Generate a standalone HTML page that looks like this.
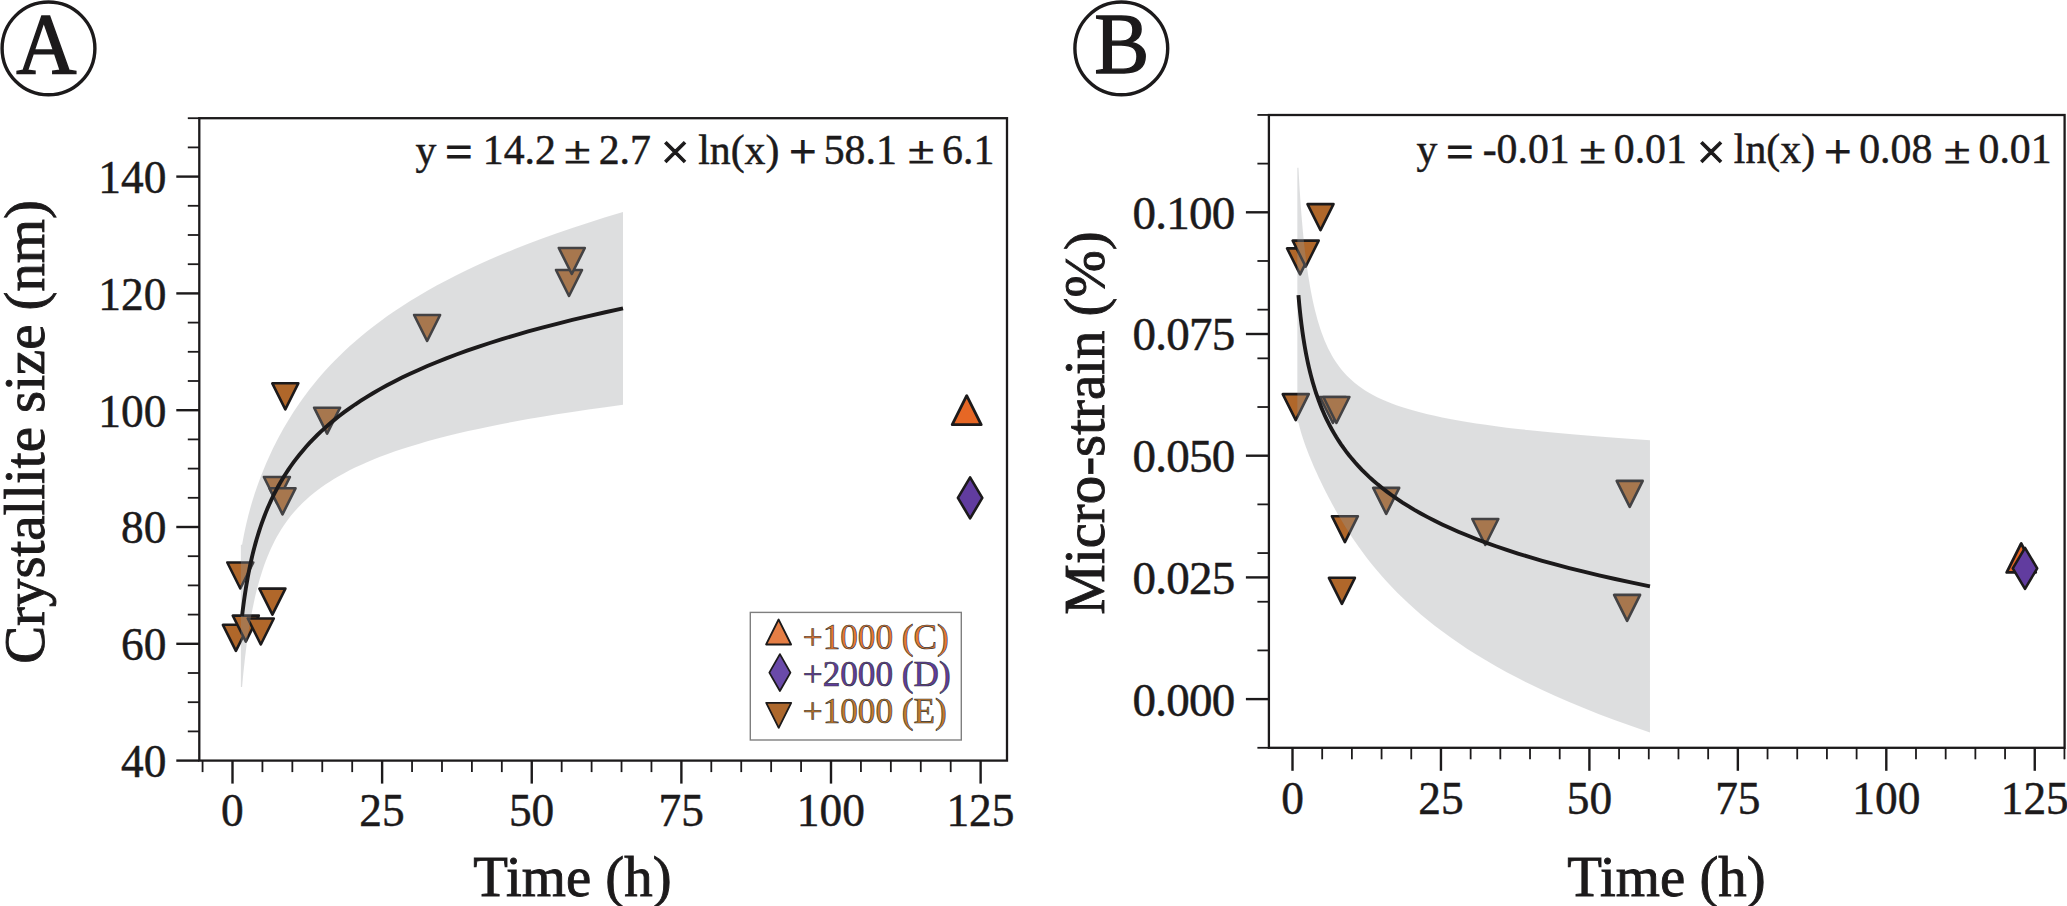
<!DOCTYPE html>
<html lang="en"><head><meta charset="utf-8"><title>Crystallite size and micro-strain vs time</title>
<style>html,body{margin:0;padding:0;background:#fff;}body{width:2067px;height:906px;overflow:hidden;}svg{display:block;}text{font-family:'Liberation Serif', 'DejaVu Serif', serif;fill:#1c1a1b;}.tk text,.eq text{stroke:#1c1a1b;stroke-width:0.5px;}.lb text{stroke:#1c1a1b;stroke-width:0.9px;}.eq text.op{stroke-width:1.1px;}</style></head><body>
<svg width="2067" height="906" viewBox="0 0 2067 906" role="img" aria-label="Crystallite size and micro-strain versus time">
<rect width="2067" height="906" fill="#fff"/>
<g id="markersA">
<path d="M222.9 624.8L248.9 624.8L235.9 650.8Z" fill="#b0672a" stroke="#1c1a1b" stroke-width="2.6" stroke-linejoin="round"/>
<path d="M232.8 615.6L258.8 615.6L245.8 641.6Z" fill="#b0672a" stroke="#1c1a1b" stroke-width="2.6" stroke-linejoin="round"/>
<path d="M247.8 618.5L273.8 618.5L260.8 644.5Z" fill="#b0672a" stroke="#1c1a1b" stroke-width="2.6" stroke-linejoin="round"/>
<path d="M259.4 588.6L285.4 588.6L272.4 614.6Z" fill="#b0672a" stroke="#1c1a1b" stroke-width="2.6" stroke-linejoin="round"/>
<path d="M227.3 562.5L253.3 562.5L240.3 588.5Z" fill="#b0672a" stroke="#1c1a1b" stroke-width="2.6" stroke-linejoin="round"/>
<path d="M263.9 477L289.9 477L276.9 503Z" fill="#b0672a" stroke="#1c1a1b" stroke-width="2.6" stroke-linejoin="round"/>
<path d="M269.5 488.3L295.5 488.3L282.5 514.3Z" fill="#b0672a" stroke="#1c1a1b" stroke-width="2.6" stroke-linejoin="round"/>
<path d="M272.3 383.3L298.3 383.3L285.3 409.3Z" fill="#b0672a" stroke="#1c1a1b" stroke-width="2.6" stroke-linejoin="round"/>
<path d="M314.1 407.7L340.1 407.7L327.1 433.7Z" fill="#b0672a" stroke="#1c1a1b" stroke-width="2.6" stroke-linejoin="round"/>
<path d="M414.1 315L440.1 315L427.1 341Z" fill="#b0672a" stroke="#1c1a1b" stroke-width="2.6" stroke-linejoin="round"/>
<path d="M556 270L582 270L569 296Z" fill="#b0672a" stroke="#1c1a1b" stroke-width="2.6" stroke-linejoin="round"/>
<path d="M558.8 248L584.8 248L571.8 274Z" fill="#b0672a" stroke="#1c1a1b" stroke-width="2.6" stroke-linejoin="round"/>
<path d="M952.2 424.7L981.2 424.7L966.7 395.7Z" fill="#e66725" stroke="#1c1a1b" stroke-width="2.8" stroke-linejoin="round"/>
<path d="M970.1 477.4L982.3 497.9L970.1 518.4L957.9 497.9Z" fill="#613c9f" stroke="#1c1a1b" stroke-width="2.6" stroke-linejoin="round"/>
</g>
<path d="M240.88 544.87L242.08 544.87L242.53 542.27L243.01 539.66L243.5 537.02L244.03 534.36L244.57 531.68L245.15 528.97L245.75 526.24L246.37 523.49L247.03 520.7L247.72 517.88L248.44 515.04L249.2 512.16L249.99 509.24L250.82 506.29L251.69 503.3L252.6 500.27L253.56 497.2L254.56 494.09L255.6 490.93L256.7 487.72L257.85 484.46L259.05 481.15L260.31 477.79L261.63 474.38L263.01 470.91L264.46 467.38L265.97 463.8L267.56 460.16L269.23 456.45L270.97 452.69L272.79 448.87L274.71 444.99L276.71 441.04L278.81 437.04L281 432.98L283.3 428.85L285.71 424.68L288.24 420.44L290.88 416.15L293.65 411.81L296.55 407.41L299.59 402.97L302.78 398.47L306.11 393.93L309.6 389.34L313.26 384.71L317.09 380.04L321.11 375.33L325.31 370.59L329.71 365.8L334.32 360.98L339.16 356.13L344.22 351.25L349.52 346.34L355.07 341.4L360.88 336.44L366.97 331.45L373.35 326.44L380.04 321.4L387.04 316.34L394.37 311.26L402.05 306.17L410.09 301.05L418.52 295.92L427.34 290.77L436.59 285.61L446.27 280.43L456.41 275.23L467.03 270.03L478.16 264.81L489.82 259.58L502.02 254.33L514.81 249.08L528.21 243.82L542.24 238.54L556.93 233.26L572.32 227.97L588.45 222.67L605.33 217.36L623.02 212.04L623.02 404.77L605.33 407.14L588.45 409.52L572.32 411.9L556.93 414.3L542.24 416.7L528.21 419.12L514.81 421.54L502.02 423.98L489.82 426.42L478.16 428.88L467.03 431.35L456.41 433.83L446.27 436.32L436.59 438.83L427.34 441.36L418.52 443.89L410.09 446.45L402.05 449.02L394.37 451.61L387.04 454.22L380.04 456.85L373.35 459.51L366.97 462.18L360.88 464.88L355.07 467.6L349.52 470.35L344.22 473.13L339.16 475.93L334.32 478.77L329.71 481.64L325.31 484.55L321.11 487.49L317.09 490.46L313.26 493.48L309.6 496.54L306.11 499.64L302.78 502.79L299.59 505.98L296.55 509.22L293.65 512.52L290.88 515.86L288.24 519.26L285.71 522.71L283.3 526.22L281 529.79L278.81 533.41L276.71 537.1L274.71 540.84L272.79 544.65L270.97 548.51L269.23 552.44L267.56 556.42L265.97 560.47L264.46 564.57L263.01 568.73L261.63 572.95L260.31 577.22L259.05 581.55L257.85 585.93L256.7 590.36L255.6 594.84L254.56 599.37L253.56 603.94L252.6 608.56L251.69 613.22L250.82 617.92L249.99 622.65L249.2 627.43L248.44 632.24L247.72 637.08L247.03 641.95L246.37 646.85L245.75 651.78L245.15 656.74L244.57 661.72L244.03 666.73L243.5 671.76L243.01 676.81L242.53 681.88L242.08 686.97L240.88 686.97Z" fill="#96989b" fill-opacity="0.32"/>
<path d="M242.08 615.92L242.53 612.08L243.01 608.23L243.5 604.39L244.03 600.54L244.57 596.7L245.15 592.86L245.75 589.01L246.37 585.17L247.03 581.32L247.72 577.48L248.44 573.64L249.2 569.79L249.99 565.95L250.82 562.1L251.69 558.26L252.6 554.42L253.56 550.57L254.56 546.73L255.6 542.88L256.7 539.04L257.85 535.2L259.05 531.35L260.31 527.51L261.63 523.66L263.01 519.82L264.46 515.98L265.97 512.13L267.56 508.29L269.23 504.45L270.97 500.6L272.79 496.76L274.71 492.91L276.71 489.07L278.81 485.23L281 481.38L283.3 477.54L285.71 473.69L288.24 469.85L290.88 466.01L293.65 462.16L296.55 458.32L299.59 454.47L302.78 450.63L306.11 446.79L309.6 442.94L313.26 439.1L317.09 435.25L321.11 431.41L325.31 427.57L329.71 423.72L334.32 419.88L339.16 416.03L344.22 412.19L349.52 408.35L355.07 404.5L360.88 400.66L366.97 396.81L373.35 392.97L380.04 389.13L387.04 385.28L394.37 381.44L402.05 377.6L410.09 373.75L418.52 369.91L427.34 366.06L436.59 362.22L446.27 358.38L456.41 354.53L467.03 350.69L478.16 346.84L489.82 343L502.02 339.16L514.81 335.31L528.21 331.47L542.24 327.62L556.93 323.78L572.32 319.94L588.45 316.09L605.33 312.25L623.02 308.4" fill="none" stroke="#1c1a1b" stroke-width="3.9" stroke-linecap="butt"/>
<g stroke="#1c1a1b" fill="none"><line x1="202.57" y1="760.6" x2="202.57" y2="772.1" stroke-width="1.8"/><line x1="262.43" y1="760.6" x2="262.43" y2="772.1" stroke-width="1.8"/><line x1="292.35" y1="760.6" x2="292.35" y2="772.1" stroke-width="1.8"/><line x1="322.27" y1="760.6" x2="322.27" y2="772.1" stroke-width="1.8"/><line x1="352.2" y1="760.6" x2="352.2" y2="772.1" stroke-width="1.8"/><line x1="412.05" y1="760.6" x2="412.05" y2="772.1" stroke-width="1.8"/><line x1="441.98" y1="760.6" x2="441.98" y2="772.1" stroke-width="1.8"/><line x1="471.9" y1="760.6" x2="471.9" y2="772.1" stroke-width="1.8"/><line x1="501.82" y1="760.6" x2="501.82" y2="772.1" stroke-width="1.8"/><line x1="561.67" y1="760.6" x2="561.67" y2="772.1" stroke-width="1.8"/><line x1="591.6" y1="760.6" x2="591.6" y2="772.1" stroke-width="1.8"/><line x1="621.53" y1="760.6" x2="621.53" y2="772.1" stroke-width="1.8"/><line x1="651.45" y1="760.6" x2="651.45" y2="772.1" stroke-width="1.8"/><line x1="711.3" y1="760.6" x2="711.3" y2="772.1" stroke-width="1.8"/><line x1="741.23" y1="760.6" x2="741.23" y2="772.1" stroke-width="1.8"/><line x1="771.15" y1="760.6" x2="771.15" y2="772.1" stroke-width="1.8"/><line x1="801.08" y1="760.6" x2="801.08" y2="772.1" stroke-width="1.8"/><line x1="860.93" y1="760.6" x2="860.93" y2="772.1" stroke-width="1.8"/><line x1="890.85" y1="760.6" x2="890.85" y2="772.1" stroke-width="1.8"/><line x1="920.78" y1="760.6" x2="920.78" y2="772.1" stroke-width="1.8"/><line x1="950.7" y1="760.6" x2="950.7" y2="772.1" stroke-width="1.8"/><line x1="232.5" y1="760.6" x2="232.5" y2="783.6" stroke-width="2.4"/><line x1="382.12" y1="760.6" x2="382.12" y2="783.6" stroke-width="2.4"/><line x1="531.75" y1="760.6" x2="531.75" y2="783.6" stroke-width="2.4"/><line x1="681.38" y1="760.6" x2="681.38" y2="783.6" stroke-width="2.4"/><line x1="831" y1="760.6" x2="831" y2="783.6" stroke-width="2.4"/><line x1="980.62" y1="760.6" x2="980.62" y2="783.6" stroke-width="2.4"/><line x1="199.3" y1="731.4" x2="187.8" y2="731.4" stroke-width="1.8"/><line x1="199.3" y1="702.2" x2="187.8" y2="702.2" stroke-width="1.8"/><line x1="199.3" y1="673" x2="187.8" y2="673" stroke-width="1.8"/><line x1="199.3" y1="614.6" x2="187.8" y2="614.6" stroke-width="1.8"/><line x1="199.3" y1="585.4" x2="187.8" y2="585.4" stroke-width="1.8"/><line x1="199.3" y1="556.2" x2="187.8" y2="556.2" stroke-width="1.8"/><line x1="199.3" y1="497.8" x2="187.8" y2="497.8" stroke-width="1.8"/><line x1="199.3" y1="468.6" x2="187.8" y2="468.6" stroke-width="1.8"/><line x1="199.3" y1="439.4" x2="187.8" y2="439.4" stroke-width="1.8"/><line x1="199.3" y1="381" x2="187.8" y2="381" stroke-width="1.8"/><line x1="199.3" y1="351.8" x2="187.8" y2="351.8" stroke-width="1.8"/><line x1="199.3" y1="322.6" x2="187.8" y2="322.6" stroke-width="1.8"/><line x1="199.3" y1="264.2" x2="187.8" y2="264.2" stroke-width="1.8"/><line x1="199.3" y1="235" x2="187.8" y2="235" stroke-width="1.8"/><line x1="199.3" y1="205.8" x2="187.8" y2="205.8" stroke-width="1.8"/><line x1="199.3" y1="147.4" x2="187.8" y2="147.4" stroke-width="1.8"/><line x1="199.3" y1="118.2" x2="187.8" y2="118.2" stroke-width="1.8"/><line x1="199.3" y1="760.6" x2="176.3" y2="760.6" stroke-width="2.4"/><line x1="199.3" y1="643.8" x2="176.3" y2="643.8" stroke-width="2.4"/><line x1="199.3" y1="527" x2="176.3" y2="527" stroke-width="2.4"/><line x1="199.3" y1="410.2" x2="176.3" y2="410.2" stroke-width="2.4"/><line x1="199.3" y1="293.4" x2="176.3" y2="293.4" stroke-width="2.4"/><line x1="199.3" y1="176.6" x2="176.3" y2="176.6" stroke-width="2.4"/></g>
<rect x="199.3" y="118.2" width="807.7" height="642.4" fill="none" stroke="#1c1a1b" stroke-width="2.3"/>
<g class="tk">
<text transform="translate(121.03 777) scale(0.965 1)" font-size="47">40</text>
<text transform="translate(121.03 660.2) scale(0.965 1)" font-size="47">60</text>
<text transform="translate(121.03 543.4) scale(0.965 1)" font-size="47">80</text>
<text transform="translate(98.35 426.6) scale(0.965 1)" font-size="47">100</text>
<text transform="translate(98.35 309.8) scale(0.965 1)" font-size="47">120</text>
<text transform="translate(98.35 193) scale(0.965 1)" font-size="47">140</text>
<text transform="translate(232.3 826.4) scale(0.965 1)" font-size="47" text-anchor="middle">0</text>
<text transform="translate(381.93 826.4) scale(0.965 1)" font-size="47" text-anchor="middle">25</text>
<text transform="translate(531.55 826.4) scale(0.965 1)" font-size="47" text-anchor="middle">50</text>
<text transform="translate(681.17 826.4) scale(0.965 1)" font-size="47" text-anchor="middle">75</text>
<text transform="translate(830.8 826.4) scale(0.965 1)" font-size="47" text-anchor="middle">100</text>
<text transform="translate(980.42 826.4) scale(0.965 1)" font-size="47" text-anchor="middle">125</text>
</g>
<g class="lb">
<text transform="translate(43.6 431.9) rotate(-90)" font-size="56.8" text-anchor="middle">Crystallite size (nm)</text>
<text x="473.25" y="895.8" font-size="56.8">Time (h)</text>
</g>
<g class="eq">
<text transform="translate(415.38 163.5) scale(0.972 1)" font-size="43">y</text>
<text x="445.24" y="168.24" font-size="48" class="op">=</text>
<text transform="translate(482.75 163.5) scale(0.972 1)" font-size="43">14.2</text>
<text transform="translate(564.2 163.1) scale(1 0.79)" font-size="48" class="op">±</text>
<text transform="translate(598.71 163.5) scale(0.972 1)" font-size="43">2.7</text>
<text x="660.84" y="169.23" font-size="51" class="op">×</text>
<text transform="translate(698.16 163.5) scale(0.972 1)" font-size="43">ln(x)</text>
<text x="789.14" y="168.24" font-size="48" class="op">+</text>
<text transform="translate(823.73 163.5) scale(0.972 1)" font-size="43">58.1</text>
<text transform="translate(908 163.1) scale(1 0.79)" font-size="48" class="op">±</text>
<text transform="translate(942.1 163.5) scale(0.972 1)" font-size="43">6.1</text>
</g>
<rect x="750.3" y="612.4" width="211" height="127.6" fill="#fff" stroke="#7f7f7f" stroke-width="1.4"/>
<path d="M766.1 644.5L791.1 644.5L778.6 619.5Z" fill="#e57e45" stroke="#1c1a1b" stroke-width="1.8" stroke-linejoin="round"/>
<text x="802.82" y="648.6" font-size="35.2" style="fill:#e8792f;stroke:#333;stroke-width:0.65px">+1000 (C)</text>
<path d="M779.9 654.15L790.45 672.6L779.9 691.05L769.35 672.6Z" fill="#6a4aa9" stroke="#1c1a1b" stroke-width="1.8" stroke-linejoin="round"/>
<text x="802.82" y="686" font-size="35.2" style="fill:#5f3d9e;stroke:#333;stroke-width:0.65px">+2000 (D)</text>
<path d="M766.2 702.8L791.2 702.8L778.7 727.8Z" fill="#ad682d" stroke="#1c1a1b" stroke-width="1.8" stroke-linejoin="round"/>
<text x="802.82" y="723.3" font-size="35.2" style="fill:#c47a2a;stroke:#333;stroke-width:0.65px">+1000 (E)</text>
<circle cx="48.5" cy="48.4" r="46.4" fill="none" stroke="#1c1a1b" stroke-width="3.4"/>
<text transform="translate(46.4 73.4) scale(0.97 1)" font-size="86" text-anchor="middle" style="stroke:#1c1a1b;stroke-width:1.5">A</text>
<g id="markersB">
<path d="M1282.75 394.1L1308.75 394.1L1295.75 420.1Z" fill="#b0672a" stroke="#1c1a1b" stroke-width="2.6" stroke-linejoin="round"/>
<path d="M1319.9 397L1345.9 397L1332.9 423Z" fill="#b0672a" stroke="#1c1a1b" stroke-width="2.6" stroke-linejoin="round"/>
<path d="M1323.4 397L1349.4 397L1336.4 423Z" fill="#b0672a" stroke="#1c1a1b" stroke-width="2.6" stroke-linejoin="round"/>
<path d="M1287.1 248.4L1313.1 248.4L1300.1 274.4Z" fill="#b0672a" stroke="#1c1a1b" stroke-width="2.6" stroke-linejoin="round"/>
<path d="M1292.7 240.6L1318.7 240.6L1305.7 266.6Z" fill="#b0672a" stroke="#1c1a1b" stroke-width="2.6" stroke-linejoin="round"/>
<path d="M1307.5 204.1L1333.5 204.1L1320.5 230.1Z" fill="#b0672a" stroke="#1c1a1b" stroke-width="2.6" stroke-linejoin="round"/>
<path d="M1331.9 516.2L1357.9 516.2L1344.9 542.2Z" fill="#b0672a" stroke="#1c1a1b" stroke-width="2.6" stroke-linejoin="round"/>
<path d="M1328.9 577.8L1354.9 577.8L1341.9 603.8Z" fill="#b0672a" stroke="#1c1a1b" stroke-width="2.6" stroke-linejoin="round"/>
<path d="M1373.2 487.9L1399.2 487.9L1386.2 513.9Z" fill="#b0672a" stroke="#1c1a1b" stroke-width="2.6" stroke-linejoin="round"/>
<path d="M1472.3 519L1498.3 519L1485.3 545Z" fill="#b0672a" stroke="#1c1a1b" stroke-width="2.6" stroke-linejoin="round"/>
<path d="M1616.7 480.9L1642.7 480.9L1629.7 506.9Z" fill="#b0672a" stroke="#1c1a1b" stroke-width="2.6" stroke-linejoin="round"/>
<path d="M1614.1 594.9L1640.1 594.9L1627.1 620.9Z" fill="#b0672a" stroke="#1c1a1b" stroke-width="2.6" stroke-linejoin="round"/>
<path d="M2006.7 572.4L2035.7 572.4L2021.2 543.4Z" fill="#e66725" stroke="#1c1a1b" stroke-width="2.8" stroke-linejoin="round"/>
<path d="M2025 547.8L2037.2 568.3L2025 588.8L2012.8 568.3Z" fill="#613c9f" stroke="#1c1a1b" stroke-width="2.6" stroke-linejoin="round"/>
</g>
<path d="M1297.34 167.63L1298.44 167.63L1298.75 173.59L1299.08 179.54L1299.42 185.46L1299.79 191.35L1300.17 197.22L1300.57 203.06L1301 208.87L1301.45 214.64L1301.92 220.38L1302.41 226.09L1302.93 231.75L1303.48 237.38L1304.06 242.96L1304.66 248.5L1305.3 253.98L1305.98 259.42L1306.68 264.8L1307.43 270.12L1308.21 275.38L1309.04 280.58L1309.91 285.71L1310.82 290.77L1311.79 295.75L1312.8 300.65L1313.87 305.48L1314.99 310.21L1316.17 314.85L1317.42 319.41L1318.73 323.86L1320.11 328.22L1321.56 332.47L1323.08 336.62L1324.69 340.66L1326.38 344.59L1328.16 348.41L1330.04 352.12L1332.01 355.71L1334.09 359.2L1336.27 362.58L1338.57 365.84L1340.99 369L1343.54 372.06L1346.22 375.01L1349.05 377.85L1352.02 380.61L1355.15 383.26L1358.44 385.83L1361.91 388.31L1365.55 390.71L1369.39 393.02L1373.43 395.26L1377.69 397.43L1382.16 399.53L1386.88 401.56L1391.84 403.54L1397.06 405.45L1402.55 407.31L1408.34 409.11L1414.42 410.87L1420.83 412.58L1427.58 414.25L1434.68 415.87L1442.15 417.46L1450.01 419L1458.29 420.52L1467 422L1476.18 423.45L1485.83 424.87L1495.99 426.26L1506.68 427.63L1517.94 428.97L1529.79 430.29L1542.26 431.58L1555.39 432.86L1569.2 434.11L1583.74 435.35L1599.05 436.57L1615.16 437.77L1632.12 438.96L1649.97 440.13L1649.97 732.45L1632.12 726.34L1615.16 720.25L1599.05 714.17L1583.74 708.1L1569.2 702.06L1555.39 696.03L1542.26 690.03L1529.79 684.04L1517.94 678.08L1506.68 672.14L1495.99 666.23L1485.83 660.34L1476.18 654.48L1467 648.65L1458.29 642.85L1450.01 637.08L1442.15 631.35L1434.68 625.65L1427.58 620L1420.83 614.38L1414.42 608.81L1408.34 603.29L1402.55 597.81L1397.06 592.39L1391.84 587.02L1386.88 581.71L1382.16 576.47L1377.69 571.28L1373.43 566.17L1369.39 561.13L1365.55 556.17L1361.91 551.28L1358.44 546.48L1355.15 541.77L1352.02 537.14L1349.05 532.61L1346.22 528.18L1343.54 523.85L1340.99 519.62L1338.57 515.5L1336.27 511.49L1334.09 507.58L1332.01 503.79L1330.04 500.11L1328.16 496.53L1326.38 493.07L1324.69 489.72L1323.08 486.48L1321.56 483.35L1320.11 480.32L1318.73 477.39L1317.42 474.57L1316.17 471.84L1314.99 469.2L1313.87 466.66L1312.8 464.2L1311.79 461.82L1310.82 459.52L1309.91 457.3L1309.04 455.15L1308.21 453.07L1307.43 451.05L1306.68 449.09L1305.98 447.19L1305.3 445.34L1304.66 443.55L1304.06 441.8L1303.48 440.1L1302.93 438.45L1302.41 436.83L1301.92 435.26L1301.45 433.72L1301 432.21L1300.57 430.74L1300.17 429.3L1299.79 427.88L1299.42 426.5L1299.08 425.14L1298.75 423.8L1298.44 422.49L1297.34 422.49Z" fill="#96989b" fill-opacity="0.32"/>
<path d="M1298.44 295.06L1298.75 298.7L1299.08 302.34L1299.42 305.98L1299.79 309.62L1300.17 313.26L1300.57 316.9L1301 320.54L1301.45 324.18L1301.92 327.82L1302.41 331.46L1302.93 335.1L1303.48 338.74L1304.06 342.38L1304.66 346.02L1305.3 349.66L1305.98 353.3L1306.68 356.94L1307.43 360.58L1308.21 364.22L1309.04 367.86L1309.91 371.5L1310.82 375.15L1311.79 378.79L1312.8 382.43L1313.87 386.07L1314.99 389.71L1316.17 393.35L1317.42 396.99L1318.73 400.63L1320.11 404.27L1321.56 407.91L1323.08 411.55L1324.69 415.19L1326.38 418.83L1328.16 422.47L1330.04 426.11L1332.01 429.75L1334.09 433.39L1336.27 437.03L1338.57 440.67L1340.99 444.31L1343.54 447.95L1346.22 451.59L1349.05 455.23L1352.02 458.87L1355.15 462.52L1358.44 466.16L1361.91 469.8L1365.55 473.44L1369.39 477.08L1373.43 480.72L1377.69 484.36L1382.16 488L1386.88 491.64L1391.84 495.28L1397.06 498.92L1402.55 502.56L1408.34 506.2L1414.42 509.84L1420.83 513.48L1427.58 517.12L1434.68 520.76L1442.15 524.4L1450.01 528.04L1458.29 531.68L1467 535.32L1476.18 538.96L1485.83 542.6L1495.99 546.24L1506.68 549.88L1517.94 553.53L1529.79 557.17L1542.26 560.81L1555.39 564.45L1569.2 568.09L1583.74 571.73L1599.05 575.37L1615.16 579.01L1632.12 582.65L1649.97 586.29" fill="none" stroke="#1c1a1b" stroke-width="3.9" stroke-linecap="butt"/>
<g stroke="#1c1a1b" fill="none"><line x1="1322.19" y1="747.8" x2="1322.19" y2="759.3" stroke-width="1.8"/><line x1="1351.88" y1="747.8" x2="1351.88" y2="759.3" stroke-width="1.8"/><line x1="1381.57" y1="747.8" x2="1381.57" y2="759.3" stroke-width="1.8"/><line x1="1411.26" y1="747.8" x2="1411.26" y2="759.3" stroke-width="1.8"/><line x1="1470.64" y1="747.8" x2="1470.64" y2="759.3" stroke-width="1.8"/><line x1="1500.33" y1="747.8" x2="1500.33" y2="759.3" stroke-width="1.8"/><line x1="1530.02" y1="747.8" x2="1530.02" y2="759.3" stroke-width="1.8"/><line x1="1559.71" y1="747.8" x2="1559.71" y2="759.3" stroke-width="1.8"/><line x1="1619.09" y1="747.8" x2="1619.09" y2="759.3" stroke-width="1.8"/><line x1="1648.78" y1="747.8" x2="1648.78" y2="759.3" stroke-width="1.8"/><line x1="1678.47" y1="747.8" x2="1678.47" y2="759.3" stroke-width="1.8"/><line x1="1708.16" y1="747.8" x2="1708.16" y2="759.3" stroke-width="1.8"/><line x1="1767.54" y1="747.8" x2="1767.54" y2="759.3" stroke-width="1.8"/><line x1="1797.23" y1="747.8" x2="1797.23" y2="759.3" stroke-width="1.8"/><line x1="1826.92" y1="747.8" x2="1826.92" y2="759.3" stroke-width="1.8"/><line x1="1856.61" y1="747.8" x2="1856.61" y2="759.3" stroke-width="1.8"/><line x1="1915.99" y1="747.8" x2="1915.99" y2="759.3" stroke-width="1.8"/><line x1="1945.68" y1="747.8" x2="1945.68" y2="759.3" stroke-width="1.8"/><line x1="1975.37" y1="747.8" x2="1975.37" y2="759.3" stroke-width="1.8"/><line x1="2005.06" y1="747.8" x2="2005.06" y2="759.3" stroke-width="1.8"/><line x1="2064.44" y1="747.8" x2="2064.44" y2="759.3" stroke-width="1.8"/><line x1="1292.5" y1="747.8" x2="1292.5" y2="770.8" stroke-width="2.4"/><line x1="1440.95" y1="747.8" x2="1440.95" y2="770.8" stroke-width="2.4"/><line x1="1589.4" y1="747.8" x2="1589.4" y2="770.8" stroke-width="2.4"/><line x1="1737.85" y1="747.8" x2="1737.85" y2="770.8" stroke-width="2.4"/><line x1="1886.3" y1="747.8" x2="1886.3" y2="770.8" stroke-width="2.4"/><line x1="2034.75" y1="747.8" x2="2034.75" y2="770.8" stroke-width="2.4"/><line x1="1268.9" y1="747.78" x2="1257.4" y2="747.78" stroke-width="1.8"/><line x1="1268.9" y1="650.42" x2="1257.4" y2="650.42" stroke-width="1.8"/><line x1="1268.9" y1="601.74" x2="1257.4" y2="601.74" stroke-width="1.8"/><line x1="1268.9" y1="553.06" x2="1257.4" y2="553.06" stroke-width="1.8"/><line x1="1268.9" y1="504.38" x2="1257.4" y2="504.38" stroke-width="1.8"/><line x1="1268.9" y1="407.02" x2="1257.4" y2="407.02" stroke-width="1.8"/><line x1="1268.9" y1="358.34" x2="1257.4" y2="358.34" stroke-width="1.8"/><line x1="1268.9" y1="309.66" x2="1257.4" y2="309.66" stroke-width="1.8"/><line x1="1268.9" y1="260.98" x2="1257.4" y2="260.98" stroke-width="1.8"/><line x1="1268.9" y1="163.62" x2="1257.4" y2="163.62" stroke-width="1.8"/><line x1="1268.9" y1="114.94" x2="1257.4" y2="114.94" stroke-width="1.8"/><line x1="1268.9" y1="699.1" x2="1245.9" y2="699.1" stroke-width="2.4"/><line x1="1268.9" y1="577.4" x2="1245.9" y2="577.4" stroke-width="2.4"/><line x1="1268.9" y1="455.7" x2="1245.9" y2="455.7" stroke-width="2.4"/><line x1="1268.9" y1="334" x2="1245.9" y2="334" stroke-width="2.4"/><line x1="1268.9" y1="212.3" x2="1245.9" y2="212.3" stroke-width="2.4"/></g>
<rect x="1268.9" y="115" width="795.7" height="632.8" fill="none" stroke="#1c1a1b" stroke-width="2.3"/>
<g class="tk">
<text x="1132.6" y="715.5" font-size="47" letter-spacing="-0.8">0.000</text>
<text x="1132.6" y="593.8" font-size="47" letter-spacing="-0.8">0.025</text>
<text x="1132.6" y="472.1" font-size="47" letter-spacing="-0.8">0.050</text>
<text x="1132.6" y="350.4" font-size="47" letter-spacing="-0.8">0.075</text>
<text x="1132.6" y="228.7" font-size="47" letter-spacing="-0.8">0.100</text>
<text transform="translate(1292.5 814) scale(0.965 1)" font-size="47" text-anchor="middle">0</text>
<text transform="translate(1440.95 814) scale(0.965 1)" font-size="47" text-anchor="middle">25</text>
<text transform="translate(1589.4 814) scale(0.965 1)" font-size="47" text-anchor="middle">50</text>
<text transform="translate(1737.85 814) scale(0.965 1)" font-size="47" text-anchor="middle">75</text>
<text transform="translate(1886.3 814) scale(0.965 1)" font-size="47" text-anchor="middle">100</text>
<text transform="translate(2034.75 814) scale(0.965 1)" font-size="47" text-anchor="middle">125</text>
</g>
<g class="lb">
<text transform="translate(1103.7 423) rotate(-90)" font-size="56.8" text-anchor="middle">Micro-strain (%)</text>
<text x="1666.5" y="895.8" font-size="56.8" text-anchor="middle">Time (h)</text>
</g>
<g class="eq">
<text transform="translate(1416.38 162.9) scale(0.972 1)" font-size="43">y</text>
<text x="1446.14" y="167.64" font-size="48" class="op">=</text>
<text transform="translate(1482.64 162.9) scale(0.972 1)" font-size="43">-0.01</text>
<text transform="translate(1579.4 162.5) scale(1 0.79)" font-size="48" class="op">±</text>
<text transform="translate(1613.75 162.9) scale(0.972 1)" font-size="43">0.01</text>
<text x="1696.64" y="168.63" font-size="51" class="op">×</text>
<text transform="translate(1733.86 162.9) scale(0.972 1)" font-size="43">ln(x)</text>
<text x="1824.34" y="167.64" font-size="48" class="op">+</text>
<text transform="translate(1859.23 162.9) scale(0.972 1)" font-size="43">0.08</text>
<text transform="translate(1944.1 162.5) scale(1 0.79)" font-size="48" class="op">±</text>
<text transform="translate(1978.5 162.9) scale(0.972 1)" font-size="43">0.01</text>
</g>
<circle cx="1121.3" cy="48.4" r="46.4" fill="none" stroke="#1c1a1b" stroke-width="3.4"/>
<text transform="translate(1121.9 73.4) scale(0.96 1)" font-size="86" text-anchor="middle" style="stroke:#1c1a1b;stroke-width:1.4">B</text>
</svg></body></html>
